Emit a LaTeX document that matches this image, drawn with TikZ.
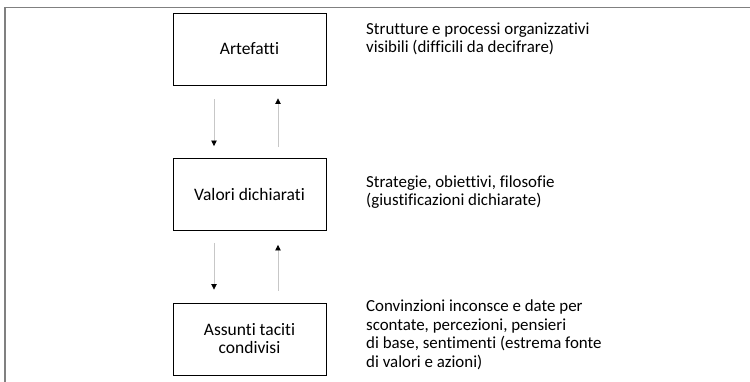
\documentclass[tikz,border=0pt]{standalone}
\usepackage{fontspec}
\setmainfont{Carlito}[Ligatures=NoCommon]
\usetikzlibrary{arrows.meta}
\begin{document}
\begin{tikzpicture}[x=1pt,y=-1pt,
  layerbox/.style={draw=black, line width=0.9pt, minimum width=153pt, minimum height=72pt, align=center, inner sep=0pt,
    font=\fontsize{17.5}{18}\selectfont},
  desc/.style={anchor=base west, align=left, inner sep=0pt, font=\fontsize{16.9}{18.4}\selectfont},
  flow/.style={draw=black!22, line width=0.8pt, -{Triangle[width=5.5pt,length=5.5pt,color=black]}}
]
\useasboundingbox (0,0) rectangle (750,382);
\draw[draw=black!50, line width=1.5pt] (5,382) -- (5,7.5) -- (750,7.5);

\node[layerbox] (art) at (249.5,49) {Artefatti};
\node[layerbox] (val) at (249.5,194.5) {Valori dichiarati};
\node[layerbox] (ass) at (249.5,339) {Assunti taciti\\condivisi};

\draw[flow, shorten <=14pt, shorten >=12pt] ([xshift=-35.5pt]art.south) -- ([xshift=-35.5pt]val.north);
\draw[flow, shorten <=11pt, shorten >=13pt] ([xshift=28.5pt]val.north) -- ([xshift=28.5pt]art.south);
\draw[flow, shorten <=12pt, shorten >=13pt] ([xshift=-35.5pt]val.south) -- ([xshift=-35.5pt]ass.north);
\draw[flow, shorten <=12pt, shorten >=14pt] ([xshift=28.5pt]ass.north) -- ([xshift=28.5pt]val.south);

\node[desc] (d1) at (366,52.5) {Strutture e processi organizzativi\\visibili (difficili da decifrare)};
\node[desc] (d2) at (366,206) {Strategie, obiettivi, filosofie\\(giustificazioni dichiarate)};
\node[desc] (d3) at (366,367) {Convinzioni inconsce e date per\\scontate, percezioni, pensieri\\di base, sentimenti (estrema fonte\\di valori e azioni)};
\end{tikzpicture}
\end{document}
